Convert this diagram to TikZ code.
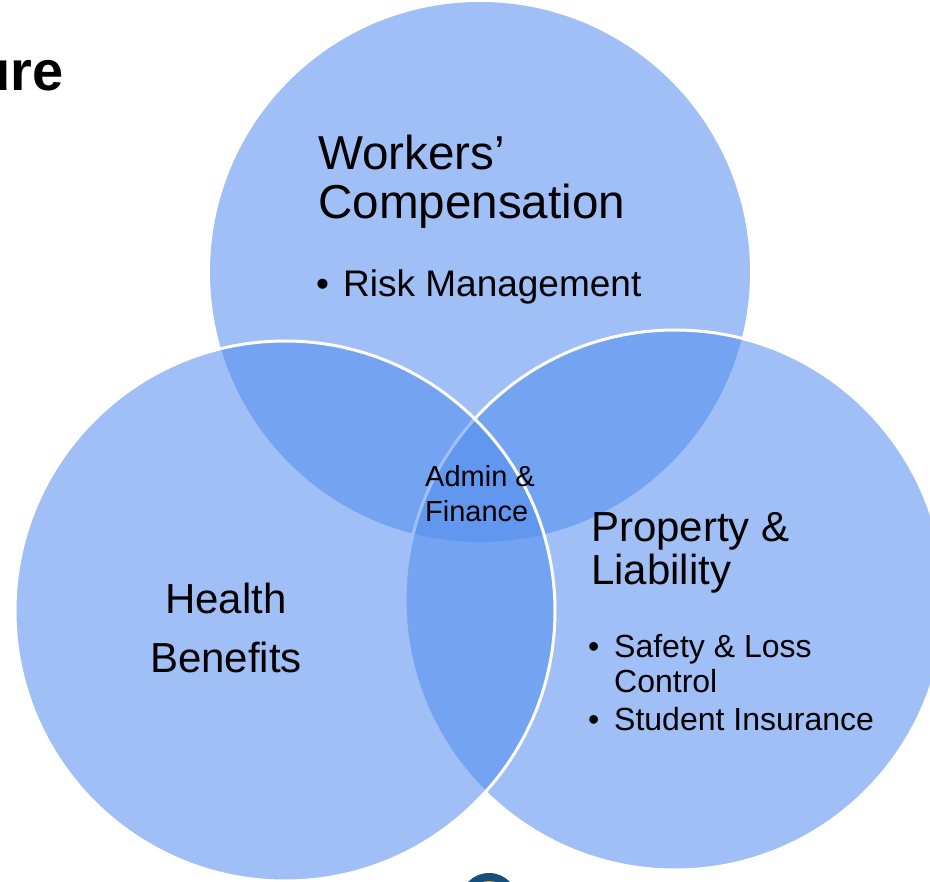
\documentclass[tikz,border=0pt]{standalone}
\usepackage{fontspec}
\setmainfont{Liberation Sans}
\definecolor{vennblue}{RGB}{84,142,240}
\definecolor{logonavy}{RGB}{22,78,126}
\definecolor{logogold}{RGB}{214,168,60}
\begin{document}
\begin{tikzpicture}[x=1pt,y=-1pt,
  venn/.style={fill=vennblue, fill opacity=0.56},
  rim/.style={draw=white, line width=3pt},
  txt/.style={inner sep=0pt, anchor=base west, text=black},
  ctxt/.style={inner sep=0pt, anchor=base, text=black},
  big/.style={font=\fontsize{47.6}{56}\selectfont},
  mid/.style={font=\fontsize{42}{50}\selectfont},
  sub/.style={font=\fontsize{37}{42}\selectfont},
  small/.style={font=\fontsize{32}{38}\selectfont},
  tiny/.style={font=\fontsize{29}{35}\selectfont}]
\useasboundingbox (0,0) rectangle (930,882);
\clip (0,0) rectangle (930,882);
\fill[white] (0,0) rectangle (930,882);

% slide title, cut by the page edge
\node[inner sep=0pt, anchor=base east, font=\fontsize{56}{64}\selectfont\bfseries] (title) at (64,91) {ure};

% the three overlapping circles
\path[venn] (480,272) circle[radius=270];
\path[venn, rim] (675,600) circle[radius=270];
\path[venn, rim] (285,611) circle[radius=270];

% logo peeking in at the bottom
\fill[logonavy] (489,902) circle[radius=29];
\fill[logogold] (489,903) circle[radius=22];

% top circle
\node[txt, big] (wc1) at (318,170) {Workers’};
\node[txt, big] (wc2) at (318,219) {Compensation};
\node[txt, sub] (rmb) at (316,297) {•};
\node[txt, sub] (rm) at (343,297) {Risk Management};

% left circle
\node[ctxt, mid] (hb1) at (226,613) {Health};
\node[ctxt, mid] (hb2) at (226,672) {Benefits};

% right circle
\node[txt, mid] (pl1) at (591,542) {Property \&};
\node[txt, mid] (pl2) at (591,585) {Liability};
\node[txt, small] (slb) at (588,657) {•};
\node[txt, small] (sl1) at (614,657) {Safety \& Loss};
\node[txt, small] (sl2) at (614,692) {Control};
\node[txt, small] (sib) at (588,730) {•};
\node[txt, small] (si) at (614,730) {Student Insurance};

% centre overlap
\node[txt, tiny] (af1) at (425,487) {Admin \&};
\node[txt, tiny] (af2) at (425,522) {Finance};
\end{tikzpicture}
\end{document}
